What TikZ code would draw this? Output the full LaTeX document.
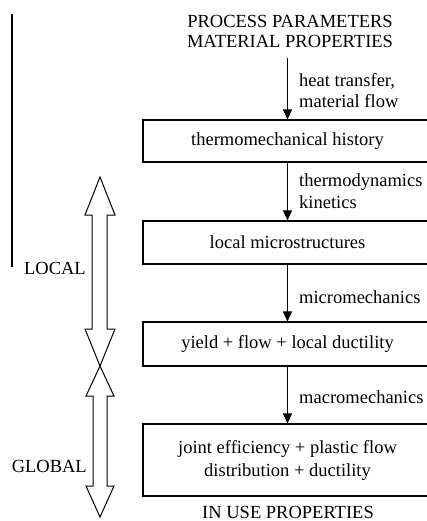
\documentclass[tikz,border=0pt]{standalone}
\usepackage{fontspec}
\setmainfont{Liberation Serif}
\usetikzlibrary{arrows.meta}
\tikzset{
  every node/.style={font=\fontsize{18.5}{22}\selectfont, inner sep=0pt},
  stagebox/.style={draw, line width=1.1pt, minimum width=289pt, align=center},
  conn/.style={line width=1pt, -{Triangle[length=10pt,width=9pt]}},
  sidelabel/.style={anchor=base west},
  scalearrow/.style={draw, line width=1pt, line join=miter},
}
\begin{document}
\begin{tikzpicture}[x=1pt,y=-1pt]
\useasboundingbox (0,0) rectangle (427,521);
\clip (0,0) rectangle (427,521);

% left vertical rule
\draw[line width=1.2pt] (12,14) -- (12,267);

% top texts
\node[anchor=base] (proc) at (290,28) {PROCESS PARAMETERS};
\node[anchor=base] (mat) at (290,48) {MATERIAL PROPERTIES};

% boxes
\node[stagebox, minimum height=42pt] (b1) at (287.5,141) {thermomechanical history};
\node[stagebox, minimum height=43pt] (b2) at (287.5,242.5) {local microstructures};
\node[stagebox, minimum height=44pt] (b3) at (287.5,344) {yield + flow + local ductility};
\node[stagebox, minimum height=72pt] (b4) at (287.5,460) {joint efficiency + plastic flow\\[1pt]distribution + ductility};

\node[anchor=base] (use) at (288,518) {IN USE PROPERTIES};

% connectors
\draw[conn] ([yshift=-10pt]b1.north |- mat.south) -- (b1.north);
\draw[conn] (b1.south) -- (b2.north);
\draw[conn] (b2.south) -- (b3.north);
\draw[conn] (b3.south) -- (b4.north);

% connector labels
\node[sidelabel] (l1a) at (299,87) {heat transfer,};
\node[sidelabel] (l1b) at (299,108) {material flow};
\node[sidelabel] (l2a) at (299,187) {thermodynamics};
\node[sidelabel] (l2b) at (299,208) {kinetics};
\node[sidelabel] (l3) at (299,303) {micromechanics};
\node[sidelabel] (l4) at (299,403) {macromechanics};

% scale labels
\node[anchor=base east] (loc) at (86,274) {LOCAL};
\node[anchor=base east] (glo) at (87,472) {GLOBAL};

% open double arrows
\draw[scalearrow] (100,177) -- (85,215) -- (92,215) -- (92,329) -- (85,329) -- (100,366)
  -- (115,329) -- (107,329) -- (107,215) -- (115,215) -- cycle;
\draw[scalearrow] (100,366) -- (86,396) -- (93,396) -- (93,486) -- (86,486) -- (100,517)
  -- (114,486) -- (107,486) -- (107,396) -- (114,396) -- cycle;
\end{tikzpicture}
\end{document}
